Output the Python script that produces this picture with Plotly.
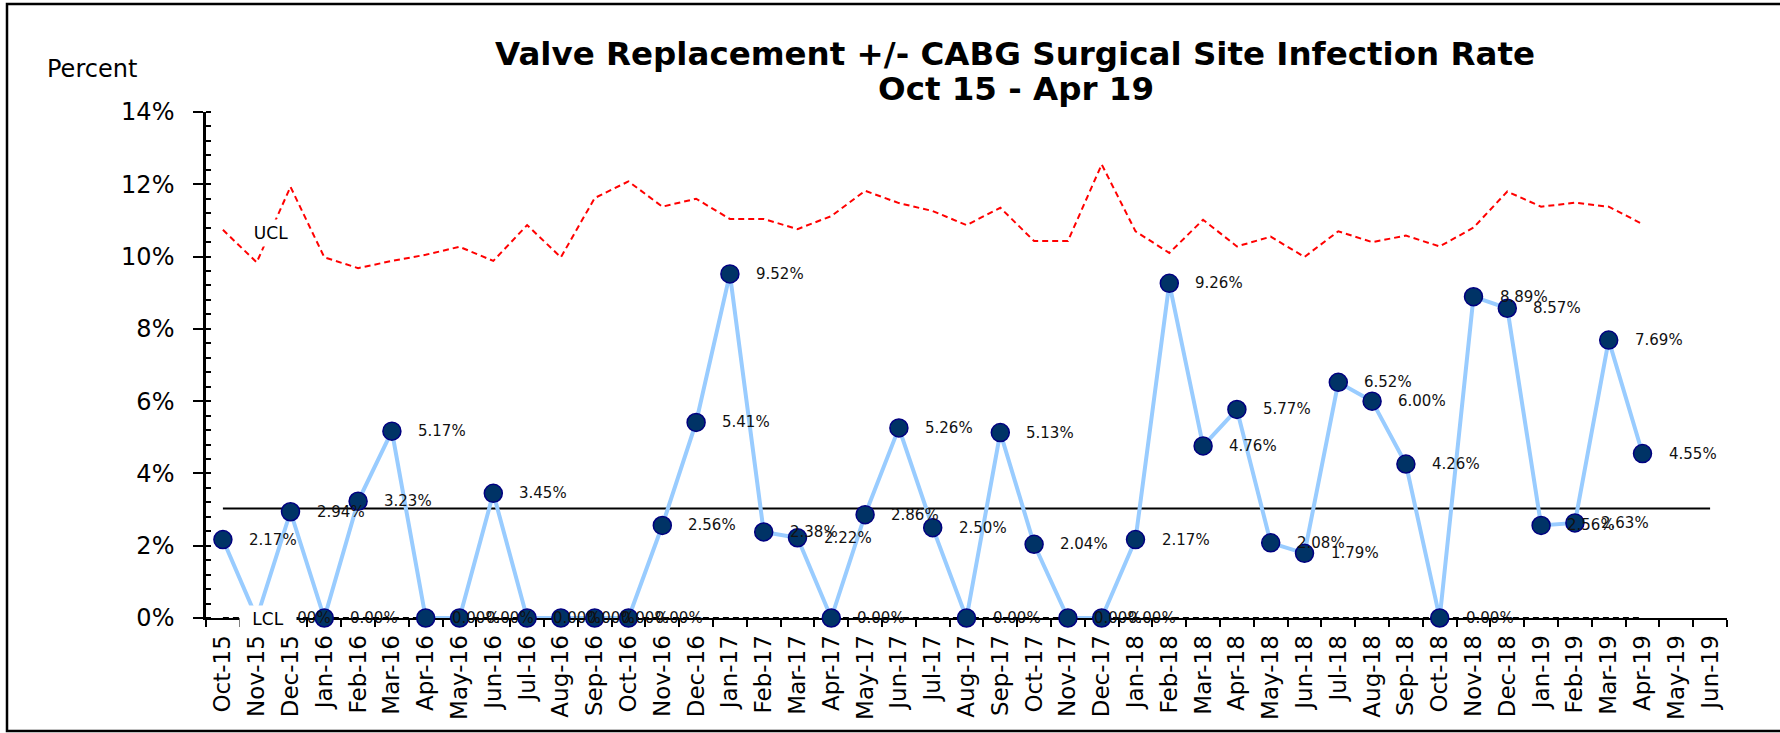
import plotly.graph_objects as go

months = ["Oct-15", "Nov-15", "Dec-15",
          "Jan-16", "Feb-16", "Mar-16", "Apr-16", "May-16", "Jun-16",
          "Jul-16", "Aug-16", "Sep-16", "Oct-16", "Nov-16", "Dec-16",
          "Jan-17", "Feb-17", "Mar-17", "Apr-17", "May-17", "Jun-17",
          "Jul-17", "Aug-17", "Sep-17", "Oct-17", "Nov-17", "Dec-17",
          "Jan-18", "Feb-18", "Mar-18", "Apr-18", "May-18", "Jun-18",
          "Jul-18", "Aug-18", "Sep-18", "Oct-18", "Nov-18", "Dec-18",
          "Jan-19", "Feb-19", "Mar-19", "Apr-19", "May-19", "Jun-19"]

rate = [2.17, 0.00, 2.94,
        0.00, 3.23, 5.17, 0.00, 0.00, 3.45, 0.00, 0.00, 0.00, 0.00, 2.56, 5.41,
        9.52, 2.38, 2.22, 0.00, 2.86, 5.26, 2.50, 0.00, 5.13, 2.04, 0.00, 0.00,
        2.17, 9.26, 4.76, 5.77, 2.08, 1.79, 6.52, 6.00, 4.26, 0.00, 8.89, 8.57,
        2.56, 2.63, 7.69, 4.55]

ucl = [10.74, 9.84, 11.93,
       9.98, 9.68, 9.88, 10.05, 10.27, 9.88, 10.87, 9.98, 11.62, 12.08, 11.38, 11.60,
       11.04, 11.04, 10.76, 11.12, 11.82, 11.48, 11.26, 10.87, 11.35, 10.43, 10.43, 12.55,
       10.70, 10.10, 11.02, 10.28, 10.55, 9.99, 10.70, 10.40, 10.58, 10.28, 10.80, 11.80,
       11.38, 11.49, 11.38, 10.90]

lcl = [0.0] * len(rate)
center_value = 3.03
center = [center_value] * len(months)

y_ticks = [0, 2, 4, 6, 8, 10, 12, 14]

FONT = "DejaVu Sans"

# pixel layout of the plot area
W, H = 1780, 733
L, R, T, B = 206, 53, 112, 115
PW, PH = W - L - R, H - T - B


def px(xp):
    return (xp - L) / PW


def py(yp):
    return (H - B - yp) / PH


rate_months = months[:len(rate)]

fig = go.Figure()

fig.add_trace(go.Scatter(
    x=months[:len(ucl)], y=ucl, mode="lines",
    line=dict(color="#FF0000", width=2, dash="6px,4px"),
    hoverinfo="skip", cliponaxis=False))

fig.add_trace(go.Scatter(
    x=months, y=center, mode="lines",
    line=dict(color="black", width=2),
    hoverinfo="skip", cliponaxis=False))

fig.add_trace(go.Scatter(
    x=rate_months, y=lcl, mode="lines",
    line=dict(color="black", width=2, dash="6px,4px"),
    hoverinfo="skip", cliponaxis=False))

fig.add_trace(go.Scatter(
    x=rate_months, y=rate, mode="lines+markers",
    line=dict(color="#99CCFF", width=4),
    marker=dict(size=18, color="#003366", line=dict(color="#000080", width=1.5)),
    cliponaxis=False))

annotations = []
for m, v in zip(rate_months, rate):
    annotations.append(dict(
        x=m, y=v, xref="x", yref="y", text=f"{v:.2f}%", showarrow=False,
        xanchor="left", yanchor="middle", xshift=24,
        font=dict(family=FONT, size=15, color="#111111")))

annotations += [
    dict(x=px(1015), y=py(54), xref="paper", yref="paper",
         text="<b>Valve Replacement +/- CABG Surgical Site Infection Rate</b>",
         showarrow=False, xanchor="center", yanchor="middle",
         font=dict(family=FONT, size=32.5, color="black")),
    dict(x=px(1016), y=py(89), xref="paper", yref="paper",
         text="<b>Oct 15 - Apr 19</b>",
         showarrow=False, xanchor="center", yanchor="middle",
         font=dict(family=FONT, size=32.5, color="black")),
    dict(x=px(45), y=py(69), xref="paper", yref="paper", text="Percent",
         showarrow=False, xanchor="left", yanchor="middle",
         font=dict(family=FONT, size=24, color="black")),
    dict(x=px(271), y=py(233), xref="paper", yref="paper", text="UCL",
         showarrow=False, xanchor="center", yanchor="middle",
         width=50, height=24, bgcolor="white",
         font=dict(family=FONT, size=17, color="black")),
    dict(x=px(268), y=py(619), xref="paper", yref="paper", text="LCL",
         showarrow=False, xanchor="center", yanchor="middle",
         width=54, height=24, bgcolor="white",
         font=dict(family=FONT, size=17, color="black")),
]

fig.update_layout(
    width=W, height=H,
    margin=dict(l=L, r=R, t=T, b=B, pad=0),
    paper_bgcolor="white", plot_bgcolor="white",
    showlegend=False,
    annotations=annotations,
    shapes=[dict(type="rect", xref="paper", yref="paper",
                 x0=px(7), x1=px(1795), y0=py(731), y1=py(4),
                 line=dict(color="black", width=2.5), fillcolor="rgba(0,0,0,0)")],
    xaxis=dict(
        type="category", categoryorder="array", categoryarray=months,
        range=[-0.5, len(months) - 0.5],
        showgrid=False, zeroline=False,
        showline=True, linecolor="black", linewidth=2,
        ticks="outside", tickson="boundaries", ticklen=7, tickwidth=2, tickcolor="black",
        tickangle=-90, tickfont=dict(family=FONT, size=23, color="black"),
        ticklabelstandoff=6,
        layer="below traces"),
    yaxis=dict(
        range=[0, 14], tickvals=y_ticks, ticktext=[f"{t}%" for t in y_ticks],
        showgrid=False, zeroline=False,
        showline=True, linecolor="black", linewidth=2.5,
        ticks="outside", ticklen=10, tickwidth=2, tickcolor="black",
        minor=dict(dtick=0.4, tick0=0, ticks="inside", ticklen=5, tickwidth=2, tickcolor="black"),
        tickfont=dict(family=FONT, size=24, color="black"),
        ticklabelstandoff=14,
        layer="below traces"),
)

fig.write_html("out.html", config={"displayModeBar": False},
               post_script="document.body.style.margin='0';")
